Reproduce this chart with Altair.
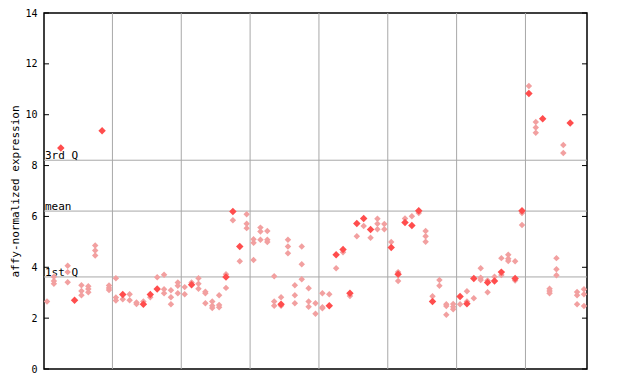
import altair as alt
import pandas as pd

# hatched (light) diamonds per column, columns 1..79
hatched = [
    [2.65], [3.63, 3.46, 3.35], [], [4.06, 3.81, 3.41], [], [3.29, 3.07, 2.90],
    [3.25, 3.15, 3.02], [4.86, 4.66, 4.46], [], [3.28, 3.19, 3.11],
    [3.57, 2.81, 2.69], [2.74], [2.94, 2.70], [2.62, 2.56], [2.65], [2.82],
    [3.61], [3.71, 3.14, 2.98], [3.10, 2.82, 2.55], [3.40, 3.27, 2.98],
    [3.22, 2.94], [3.40], [3.57, 3.35, 3.16], [3.04, 2.98, 2.59],
    [2.65, 2.49, 2.40], [2.90, 2.52, 2.43], [3.73, 3.19], [5.85], [4.24],
    [6.09, 5.71, 5.54], [5.10, 4.96, 4.29], [5.56, 5.41, 5.08],
    [5.43, 5.08, 4.99], [3.65, 2.65, 2.49], [2.82, 2.49], [5.08, 4.82, 4.55],
    [3.29, 2.90, 2.59], [4.82, 4.12, 3.53], [3.18, 2.65, 2.45], [2.59, 2.17],
    [2.98, 2.43, 2.39], [2.94], [3.96], [4.59], [2.87], [5.22], [5.62], [5.16],
    [5.91, 5.71, 5.50], [5.70, 5.50], [4.99], [3.81, 3.46], [5.92], [6.01],
    [6.13], [5.43, 5.22, 5.00], [2.86], [3.50, 3.27], [2.55, 2.48, 2.13],
    [2.56, 2.45, 2.35], [2.55], [3.06, 2.65], [2.78], [3.96, 3.59, 3.50],
    [3.48, 3.02], [3.63], [4.36, 3.70], [4.49, 4.34, 4.25], [4.24, 3.48],
    [6.13, 5.66], [11.13], [9.71, 9.50, 9.29], [], [3.16, 3.07, 2.98],
    [4.36, 3.92, 3.69], [8.81, 8.49], [], [3.03, 2.90, 2.55], [3.14, 2.94, 2.48],
]

# filled (solid) diamonds per column, columns 1..79
filled = [
    [], [], [8.69], [], [2.70], [], [], [], [9.37], [],
    [], [2.93], [], [], [2.55], [2.93], [3.15], [], [], [],
    [], [3.31], [], [], [], [], [3.62], [6.19], [4.82], [],
    [], [], [], [], [2.55], [], [], [], [], [],
    [], [2.49], [4.49], [4.70], [2.98], [5.72], [5.92], [5.49], [], [],
    [4.78], [3.73], [5.76], [5.64], [6.22], [], [2.65], [], [], [],
    [2.85], [2.57], [3.56], [], [3.40], [3.46], [3.81], [], [3.56], [6.22],
    [10.83], [], [9.84], [], [], [], [9.67], [], [],
]

ref_values = [8.21, 6.21, 3.62]
ref_labels = ["3rd Q", "mean", "1st Q"]
y_ticks = [0, 2, 4, 6, 8, 10, 12, 14]
group_bounds = [10.5, 20.5, 30.5, 40.5, 50.5, 60.5, 70.5]

rows = []
for i, vals in enumerate(hatched):
    for v in vals:
        rows.append({"col": i + 1, "value": v, "kind": "h"})
for i, vals in enumerate(filled):
    for v in vals:
        rows.append({"col": i + 1, "value": v, "kind": "f"})
pts = pd.DataFrame(rows)

W, H = 543, 356
xs = alt.Scale(domain=[0.56, 79.44], nice=False, zero=False)
ys = alt.Scale(domain=[0, 14], nice=False, zero=False)

grid = alt.Chart(pd.DataFrame({"g": group_bounds})).mark_rule(
    color="#a8a8a8", strokeWidth=1
).encode(x=alt.X("g:Q", scale=xs, axis=None))

refs_df = pd.DataFrame({"v": ref_values, "label": ref_labels})
refs = alt.Chart(refs_df).mark_rule(color="#a8a8a8", strokeWidth=1).encode(
    y=alt.Y("v:Q", scale=ys)
)
ref_text = alt.Chart(refs_df).mark_text(
    align="left", baseline="bottom", font="DejaVu Sans Mono", fontSize=11,
    color="black", dy=1
).encode(x=alt.value(1), y=alt.Y("v:Q", scale=ys), text="label:N")

h_pts = alt.Chart(pts[pts.kind == "h"]).mark_point(
    shape="diamond", filled=True, size=42, color="#f2a0a0", opacity=1
).encode(
    x=alt.X("col:Q", scale=xs, axis=None),
    y=alt.Y("value:Q", scale=ys),
)
f_pts = alt.Chart(pts[pts.kind == "f"]).mark_point(
    shape="diamond", filled=True, size=56, color="#ff4d4d", opacity=1
).encode(
    x=alt.X("col:Q", scale=xs, axis=None),
    y=alt.Y("value:Q", scale=ys),
)

tdf = pd.DataFrame({"t": y_ticks})
lticks = alt.Chart(tdf).mark_rule(color="black").encode(
    y=alt.Y("t:Q", scale=ys), x=alt.value(0), x2=alt.value(5)
)
rticks = alt.Chart(tdf).mark_rule(color="black").encode(
    y=alt.Y("t:Q", scale=ys), x=alt.value(W - 5), x2=alt.value(W)
)

base_axis = alt.Axis(
    values=y_ticks, ticks=False, grid=False, domain=False,
    labelFont="DejaVu Sans Mono", labelFontSize=10, labelColor="black",
    labelPadding=7, title="affy-normalized expression",
    titleFont="DejaVu Sans Mono", titleFontSize=11, titleFontWeight="normal",
    titleColor="black", titleX=-26, titleY=H / 2, titleAngle=270,
    titleAlign="center", titleBaseline="alphabetic",
)

axis_layer = alt.Chart(tdf).mark_point(opacity=0).encode(
    y=alt.Y("t:Q", scale=ys, axis=base_axis)
)

chart = alt.layer(
    axis_layer, grid, refs, ref_text, h_pts, f_pts, lticks, rticks
).properties(
    width=W, height=H,
    autosize=alt.AutoSizeParams(type="none"),
    padding={"left": 36, "top": 5, "right": 45, "bottom": 7},
).configure_view(stroke="black", strokeWidth=1.5)

chart.save("out.html", embed_options={"renderer": "svg", "actions": False})
